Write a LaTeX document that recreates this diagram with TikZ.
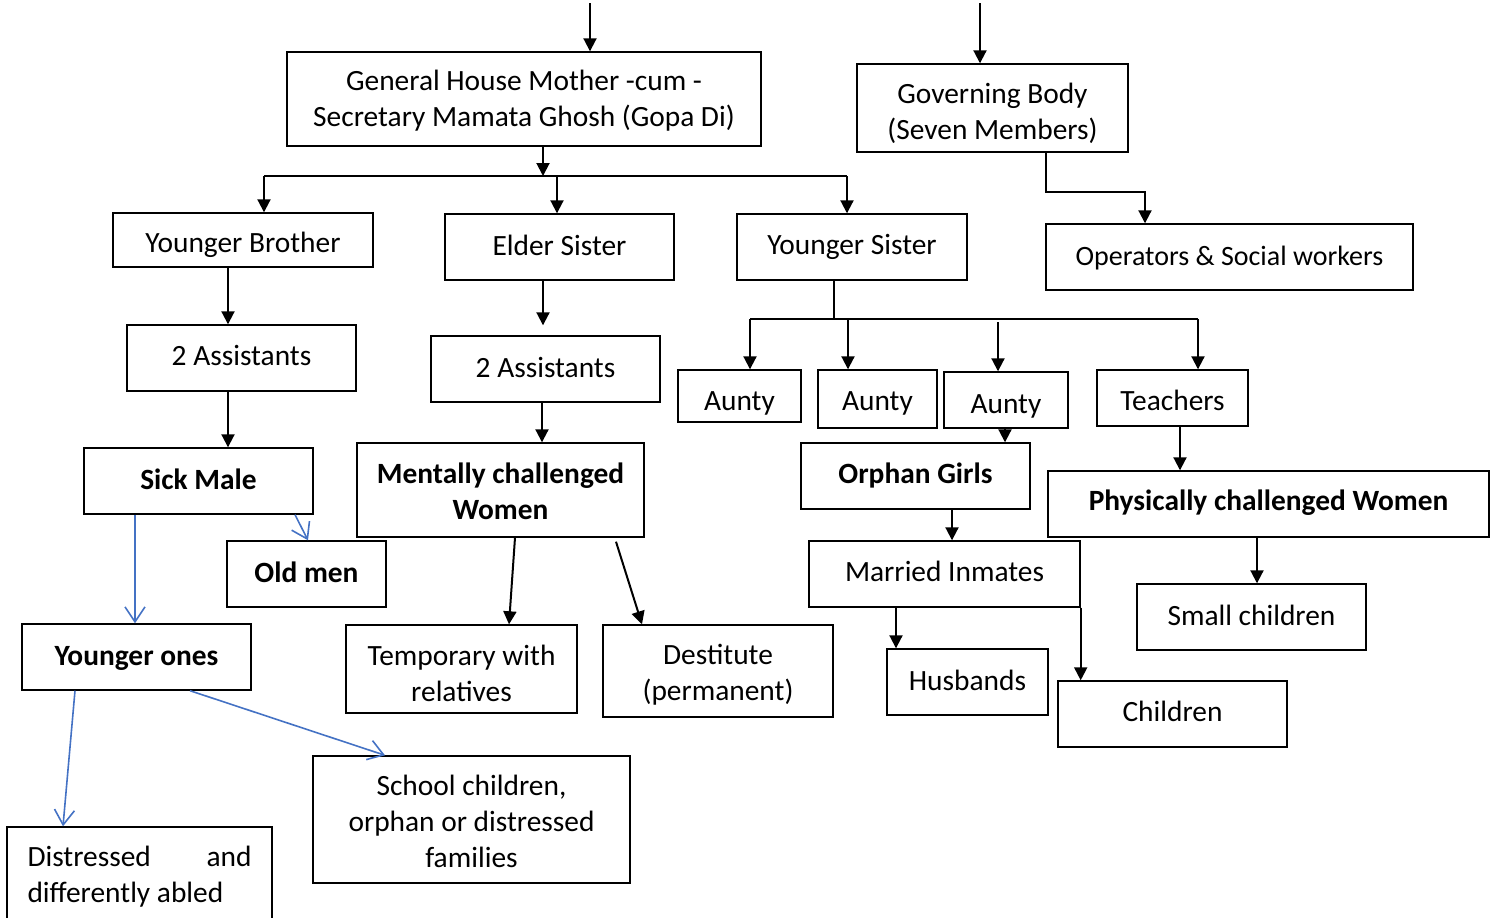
\documentclass[tikz,border=0pt]{standalone}
\usepackage{fontspec}
\setmainfont{Carlito}
\usetikzlibrary{arrows.meta,calc}
\newcommand\dn[2]{\raisebox{-#1pt}[\height][\depth]{#2}}
\begin{document}
\begin{tikzpicture}[x=1pt,y=-1pt,
  box/.style={draw, line width=1.4pt, align=center, inner sep=0pt, font=\fontsize{29.4}{36}\selectfont},
  bbox/.style={box, font=\fontsize{29.4}{36}\selectfont\bfseries},
  arr/.style={line width=2pt, -{Triangle[length=13pt,width=13pt]}},
  ln/.style={line width=2pt},
  barr/.style={line width=1.6pt, draw={rgb,255:red,68;green,114;blue,196}, -{Straight Barb[length=15pt,width=20pt,line width=1.6pt]}}
]
\clip (0,0) rectangle (1494,918);
\useasboundingbox (0,0) rectangle (1494,918);
% nodes
\node[box, minimum width=474pt, minimum height=94pt] (gen) at (524,99) {\dn{2}{General House Mother -cum -}\\\dn{2}{Secretary Mamata Ghosh (Gopa Di)}};
\node[box, minimum width=271pt, minimum height=88pt] (gov) at (992.5,108) {\dn{5}{Governing Body}\\\dn{5}{(Seven Members)}};
\node[box, minimum width=260pt, minimum height=54pt] (yb) at (243,240) {\dn{5}{Younger Brother}};
\node[box, minimum width=229pt, minimum height=66pt] (es) at (559.5,247) {\dn{-2}{Elder Sister}};
\node[box, minimum width=230pt, minimum height=66pt] (ys) at (852,247) {Younger Sister};
\node[box, minimum width=367pt, minimum height=66pt, font=\fontsize{28}{34}\selectfont] (ops) at (1229.5,257) {\dn{1}{Operators \& Social workers}};
\node[box, minimum width=229pt, minimum height=66pt] (a2l) at (241.5,358) {\dn{-3}{2 Assistants}};
\node[box, minimum width=229pt, minimum height=66pt] (a2m) at (545.5,369) {\dn{-2}{2 Assistants}};
\node[box, minimum width=123pt, minimum height=52pt] (au1) at (739.5,396) {\dn{7}{Aunty}};
\node[box, minimum width=119pt, minimum height=58pt] (au2) at (877.5,399) {\dn{4}{Aunty}};
\node[box, minimum width=124pt, minimum height=56pt] (au3) at (1006,400) {\dn{6}{Aunty}};
\node[box, minimum width=151pt, minimum height=56pt] (tea) at (1172.5,398) {\dn{2}{Teachers}};
\node[bbox, minimum width=229pt, minimum height=66pt] (sick) at (198.5,481) {\dn{-2}{Sick Male}};
\node[bbox, minimum width=287pt, minimum height=94pt] (ment) at (500.5,490) {\dn{1}{Mentally challenged}\\\dn{1}{Women}};
\node[bbox, minimum width=229pt, minimum height=66pt] (orph) at (915.5,476) {\dn{-1}{Orphan Girls}};
\node[bbox, minimum width=441pt, minimum height=66pt] (phys) at (1268.5,504) {\dn{-1}{Physically challenged Women}};
\node[bbox, minimum width=159pt, minimum height=66pt] (old) at (306.5,574) {\dn{-2}{Old men}};
\node[bbox, minimum width=229pt, minimum height=66pt] (yo) at (136.5,657) {\dn{1}{Younger ones}};
\node[box, minimum width=271pt, minimum height=66pt] (mar) at (944.5,574) {\dn{-3}{Married Inmates}};
\node[box, minimum width=229pt, minimum height=66pt] (small) at (1251.5,617) {\dn{-2}{Small children}};
\node[box, minimum width=231pt, minimum height=88pt] (temp) at (461.5,669) {\dn{4}{Temporary with}\\\dn{4}{relatives}};
\node[box, minimum width=230pt, minimum height=92pt] (dest) at (718,671) {\dn{4}{Destitute}\\\dn{4}{(permanent)}};
\node[box, minimum width=161pt, minimum height=66pt] (hus) at (967.5,682) {\dn{-2}{Husbands}};
\node[box, minimum width=229pt, minimum height=66pt] (chil) at (1172.5,714) {\dn{-3}{Children}};
\node[box, minimum width=317pt, minimum height=127pt] (sch) at (471.5,819.5) {\dn{2}{School children,}\\\dn{2}{orphan or distressed}\\\dn{2}{families}};
\node[box, minimum width=265pt, minimum height=96pt, align=left] (dis) at (139.5,875) {\dn{2}{\hbox to 224pt{Distressed\hfill and}}\\\dn{2}{\hbox to 224pt{differently abled\hfill}}};
% coordinates
\coordinate (t1) at (590,3);
\coordinate (t2) at (980,3);
\coordinate (gx) at (543,176);
\coordinate (barL) at (264,176);
\coordinate (barM) at (557,176);
\coordinate (barR) at (847,176);
\coordinate (g1) at (1046,192);
\coordinate (g2) at (1145,192);
\coordinate (c1) at (228,0);
\coordinate (c2) at (543,0);
\coordinate (c3) at (542,0);
\coordinate (ysx) at (834,319);
\coordinate (sb1) at (750,319);
\coordinate (sb2) at (848,319);
\coordinate (sb3) at (998,319);
\coordinate (sb4) at (1198,319);
\coordinate (o1) at (1005,0);
\coordinate (o2) at (1180,0);
\coordinate (o3) at (952,0);
\coordinate (o4) at (1257,0);
\coordinate (m1) at (515,0);
\coordinate (m2) at (509,0);
\coordinate (m3) at (616,0);
\coordinate (m4) at (642,0);
\coordinate (h1) at (896,0);
\coordinate (b1) at (135,0);
\coordinate (b2) at (295,0);
\coordinate (b3) at (308,0);
\coordinate (b4) at (75,0);
\coordinate (b5) at (63,0);
\coordinate (b6) at (190,0);
\coordinate (b7) at (385,0);
% black connectors
\draw[arr] (t1) -- (t1 |- gen.north);
\draw[arr] (t2) -- (t2 |- gov.north);
\draw[arr] (gx |- gen.south) -- (gx);
\draw[ln] (barL) -- (barR);
\draw[arr] (barL) -- (barL |- yb.north);
\draw[arr] (barM) -- (barM |- es.north);
\draw[arr] (barR) -- (barR |- ys.north);
\draw[arr] (g1 |- gov.south) -- (g1) -- (g2) -- (g2 |- ops.north);
\draw[arr] (c1 |- yb.south) -- (c1 |- a2l.north);
\draw[arr] (c1 |- a2l.south) -- (c1 |- sick.north);
\draw[arr] (c2 |- es.south) -- ($(c2 |- a2m.north)+(0,-10)$);
\draw[arr] (c3 |- a2m.south) -- (c3 |- ment.north);
\draw[ln] (ysx |- ys.south) -- (ysx);
\draw[ln] (sb1) -- (sb4);
\draw[arr] (sb1) -- (sb1 |- au1.north);
\draw[arr] (sb2) -- (sb2 |- au2.north);
\draw[arr] ($(sb3)+(0,3)$) -- (sb3 |- au3.north);
\draw[arr] (sb4) -- (sb4 |- tea.north);
\draw[arr] (o1 |- au3.south) -- (o1 |- orph.north);
\draw[arr] (o2 |- tea.south) -- (o2 |- phys.north);
\draw[arr] (o3 |- orph.south) -- (o3 |- mar.north);
\draw[arr] (o4 |- phys.south) -- (o4 |- small.north);
\draw[arr] (m1 |- ment.south) -- (m2 |- temp.north);
\draw[arr] ($(m3 |- ment.south)+(0,4)$) -- (m4 |- dest.north);
\draw[arr] (h1 |- mar.south) -- (h1 |- hus.north);
\draw[arr] (mar.south east) -- (mar.south east |- chil.north);
% blue connectors
\draw[barr] (b1 |- sick.south) -- (b1 |- yo.north);
\draw[barr] (b2 |- sick.south) -- (b3 |- old.north);
\draw[barr] (b4 |- yo.south) -- (b5 |- dis.north);
\draw[barr] (b6 |- yo.south) -- (b7 |- sch.north);
\end{tikzpicture}
\end{document}
